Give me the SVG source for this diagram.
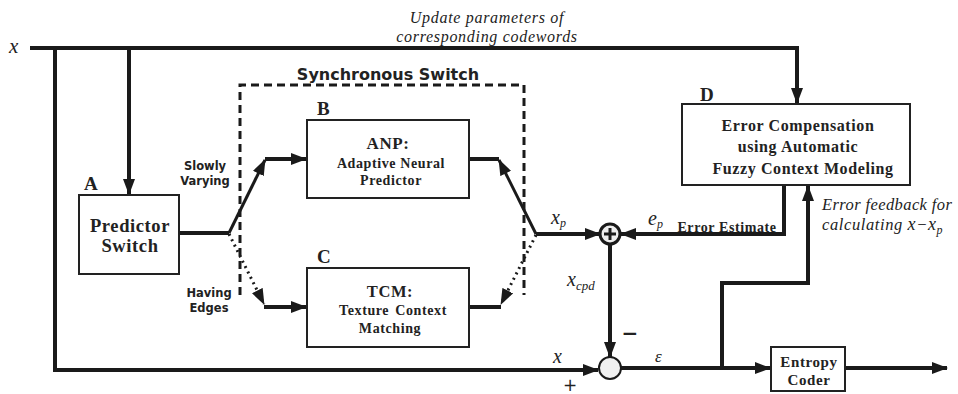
<svg xmlns="http://www.w3.org/2000/svg" width="958" height="394" viewBox="0 0 958 394">
<style>
.bx{fill:#fff;stroke:#222;stroke-width:2}
.ln{fill:none;stroke:#1a1a1a;stroke-width:4}
.sw{fill:none;stroke:#1a1a1a;stroke-width:3}
.dt{fill:none;stroke:#1a1a1a;stroke-width:3;stroke-dasharray:2,4}
.bs{font-family:"Liberation Serif","Times New Roman",serif;font-weight:bold;fill:#222;text-anchor:middle;letter-spacing:0.6px}
.lb{font-family:"Liberation Serif","Times New Roman",serif;font-weight:bold;fill:#222;font-size:19px}
.ss{font-family:"DejaVu Sans","Liberation Sans",sans-serif;font-weight:bold;fill:#222;text-anchor:middle;font-size:11.5px}
.it{font-family:"Liberation Serif","Times New Roman",serif;font-style:italic;fill:#222}
.mx{font-family:"Liberation Serif","Times New Roman",serif;font-style:italic;fill:#222}
</style>
<defs>
<marker id="ah" markerUnits="userSpaceOnUse" markerWidth="16" markerHeight="12" refX="15" refY="6" orient="auto">
<path d="M0,0 L16,6 L0,12 z" fill="#1a1a1a"/>
</marker>
</defs>
<rect width="958" height="394" fill="#fff"/>

<g id="connectors">
<path class="ln" d="M30,48 H797 V103" marker-end="url(#ah)"/>
<path class="ln" d="M55,48 V370 H598" marker-end="url(#ah)"/>
<path class="ln" d="M129,48 V194" marker-end="url(#ah)"/>
<path class="ln" d="M179,233 H229"/>
<path class="sw" d="M229,233 L265,160" marker-end="url(#ah)"/>
<path class="ln" d="M265,159 H306" marker-end="url(#ah)"/>
<path class="dt" d="M229,234 L264,304" marker-end="url(#ah)"/>
<path class="ln" d="M264,307 H306" marker-end="url(#ah)"/>
<path class="ln" d="M469,159 H499"/>
<path class="sw" d="M536,234 L499,160" marker-end="url(#ah)"/>
<path class="ln" d="M469,307 H501"/>
<path class="dt" d="M536,235 L501,304" marker-end="url(#ah)"/>
<path class="ln" d="M536,234 H600" marker-end="url(#ah)"/>
<path class="ln" d="M784,185 V234 H621" marker-end="url(#ah)"/>
<path class="ln" d="M610,244 V357" marker-end="url(#ah)"/>
<path class="ln" d="M621,368 H770" marker-end="url(#ah)"/>
<path class="ln" d="M722,368 V283 H808 V186" marker-end="url(#ah)"/>
<path class="ln" d="M845,368 H947" marker-end="url(#ah)"/>
<path fill="none" stroke="#1a1a1a" stroke-width="3" stroke-dasharray="8,5" d="M240,295 V85 H524 V295"/>
</g>

<g id="labels">
<text class="mx" x="9" y="53" font-size="21">x</text>
<text class="it" x="487" y="23" font-size="16" text-anchor="middle" letter-spacing="0.7">Update parameters of</text>
<text class="it" x="487" y="42" font-size="16" text-anchor="middle" letter-spacing="0.7">corresponding codewords</text>
<text x="388" y="80" font-family="DejaVu Sans,Liberation Sans,sans-serif" font-weight="bold" font-size="16" fill="#222" text-anchor="middle">Synchronous Switch</text>
<text class="ss" x="205" y="170">Slowly</text>
<text class="ss" x="205" y="185">Varying</text>
<text class="ss" x="209" y="297">Having</text>
<text class="ss" x="209" y="312">Edges</text>
<text class="mx" x="551" y="224" font-size="20">x<tspan font-size="12" dy="3">p</tspan></text>
<text class="mx" x="648" y="225" font-size="20">e<tspan font-size="12" dy="3">p</tspan></text>
<text class="bs" x="727" y="232" font-size="14">Error Estimate</text>
<text class="mx" x="567" y="286" font-size="20">x<tspan font-size="13" dy="4">cpd</tspan></text>
<text x="630" y="340" font-family="DejaVu Sans,sans-serif" font-size="20" font-weight="bold" fill="#222" text-anchor="middle">−</text>
<text class="mx" x="553" y="363" font-size="20">x</text>
<text x="570" y="391" font-family="DejaVu Sans,sans-serif" font-size="17" fill="#222" text-anchor="middle">+</text>
<text class="mx" x="655" y="362" font-size="17">ε</text>
<text class="it" x="822" y="210" font-size="16.5" letter-spacing="0.4">Error feedback for</text>
<text class="it" x="822" y="230" font-size="16.5" letter-spacing="0.6">calculating <tspan font-size="18">x</tspan>−<tspan font-size="18">x</tspan><tspan font-size="12" dy="4">p</tspan></text>
</g>

<g id="nodeA">
<rect class="bx" x="79" y="195" width="100" height="79"/>
<text class="lb" x="84" y="190">A</text>
<text class="bs" x="130" y="232" font-size="18.5">Predictor</text>
<text class="bs" x="130" y="252" font-size="18.5">Switch</text>
</g>

<g id="nodeB">
<rect class="bx" x="307" y="120" width="162" height="78"/>
<text class="lb" x="317" y="115">B</text>
<text class="bs" x="388" y="149" font-size="17">ANP:</text>
<text class="bs" x="391" y="168" font-size="14">Adaptive Neural</text>
<text class="bs" x="391" y="185" font-size="14">Predictor</text>
</g>

<g id="nodeC">
<rect class="bx" x="307" y="268" width="162" height="79"/>
<text class="lb" x="317" y="263">C</text>
<text class="bs" x="390" y="297" font-size="16.5">TCM:</text>
<text class="bs" x="393" y="315" font-size="14" word-spacing="2">Texture Context</text>
<text class="bs" x="390" y="333" font-size="14">Matching</text>
</g>

<g id="nodeD">
<rect class="bx" x="682" y="104" width="228" height="81"/>
<text class="lb" x="700" y="101">D</text>
<text class="bs" x="798" y="131" font-size="16">Error Compensation</text>
<text class="bs" x="798" y="152" font-size="16">using Automatic</text>
<text class="bs" x="803" y="174" font-size="16">Fuzzy Context Modeling</text>
</g>

<g id="sum1">
<circle cx="610" cy="234" r="10" fill="#eee" stroke="#1a1a1a" stroke-width="3"/>
<path d="M604,234 H616 M610,228 V240" stroke="#1a1a1a" stroke-width="3"/>
</g>

<g id="sum2">
<circle cx="610" cy="368" r="11" fill="#f0f0f0" stroke="#1a1a1a" stroke-width="2"/>
</g>

<g id="nodeE">
<rect class="bx" x="771" y="347" width="74" height="44"/>
<text class="bs" x="809" y="367" font-size="15">Entropy</text>
<text class="bs" x="809" y="385" font-size="15">Coder</text>
</g>
</svg>
